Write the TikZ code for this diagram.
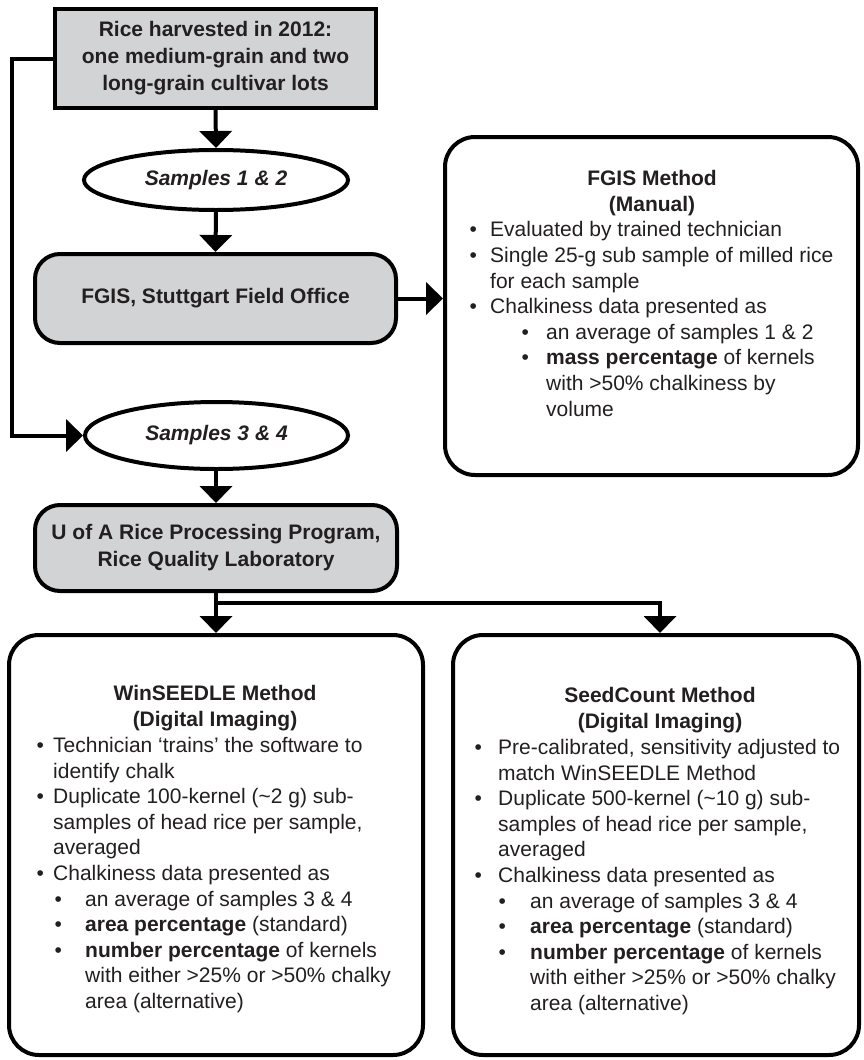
\documentclass[tikz,border=0pt]{standalone}
\usepackage{fontspec}
\setmainfont{Liberation Sans}
\usetikzlibrary{shapes.geometric,arrows.meta}
\definecolor{boxgray}{HTML}{D1D3D4}
\definecolor{ink}{HTML}{231F20}
\newcommand\bl[3]{\hspace*{#1pt}\makebox[0pt]{\textbullet}\hspace*{#2pt}#3}
\newcommand\ct[2]{\hspace*{#1pt}#2}
\begin{document}
\begin{tikzpicture}[x=1pt,y=-1pt,
  every node/.style={text=ink, font=\fontsize{21}{25.6}\selectfont, inner sep=0pt},
  frame/.style={draw=black, line width=4pt},
  graybox/.style={frame, fill=boxgray, align=center, font=\bfseries\fontsize{21}{27}\selectfont},
  roundbox/.style={frame, rounded corners=30pt},
  oval/.style={frame, ellipse, fill=white, font=\bfseries\itshape\fontsize{21}{25}\selectfont},
  head/.style={anchor=north, align=center, font=\bfseries\fontsize{21}{26}\selectfont},
  body/.style={anchor=north west, align=left},
  conn/.style={line width=4pt, -{Triangle[width=32pt,length=17pt]}}]
\useasboundingbox[fill=white] (0,0) rectangle (863,1060);

% main flow nodes
\node[graybox, minimum width=321pt, minimum height=99pt] (top) at (215.5,58.5)
  {Rice harvested in 2012:\\one medium-grain and two\\long-grain cultivar lots};
\node[oval, minimum width=264pt, minimum height=60pt] (s12) at (216,180) {Samples 1 \& 2};
\node[graybox, rounded corners=25pt, minimum width=361pt, minimum height=89pt] (fgis) at (215.5,298.5)
  {FGIS, Stuttgart Field Office};
\node[roundbox, minimum width=413pt, minimum height=338pt] (fgism) at (651.5,306) {};
\node[oval, minimum width=263pt, minimum height=67pt] (s34) at (216.5,435.5) {Samples 3 \& 4};
\node[graybox, rounded corners=25pt, minimum width=362pt, minimum height=86pt] (uofa) at (216,548)
  {U of A Rice Processing Program,\\Rice Quality Laboratory};
\node[roundbox, minimum width=414pt, minimum height=420pt] (lbox) at (216,845) {};
\node[roundbox, minimum width=406pt, minimum height=420pt] (rbox) at (656,845) {};

% connectors
\coordinate (lx) at (12,435.5);
\coordinate (br) at (216,603);
\draw[conn] (top.south) -- (s12.north);
\draw[conn] (s12.south) -- (fgis.north);
\draw[conn] (fgis.east) -- (fgis.east -| fgism.west);
\draw[conn, -{Triangle[width=32pt,length=17pt]}] (top.west) -| (lx) -- (s34.west);
\draw[conn] (s34.south) -- (uofa.south |- s34.south) -- (uofa.north);
\draw[conn] (uofa.south) -- (uofa.south |- lbox.north);
\draw[conn] (br) -| ([xshift=4pt]rbox.north);

% FGIS method text
\node[head] (fgish) at (652,170) {FGIS Method\\(Manual)};
\node[body] (fgisb) at (460,221.5) {%
\bl{13}{17}{Evaluated by trained technician}\\
\bl{13}{17}{Single 25-g sub sample of milled rice}\\
\ct{30}{for each sample}\\
\bl{13}{17}{Chalkiness data presented as}\\
\bl{65}{21}{an average of samples 1 \& 2}\\
\bl{65}{21}{\textbf{mass percentage} of kernels}\\
\ct{86}{with >50\% chalkiness by}\\
\ct{86}{volume}};

% WinSEEDLE text
\node[head] (lh) at (215,685) {WinSEEDLE Method\\(Digital Imaging)};
\node[body] (lb) at (30,737) {%
\bl{10}{13}{Technician ‘trains’ the software to}\\
\ct{23}{identify chalk}\\
\bl{10}{13}{Duplicate 100-kernel (\textasciitilde2 g) sub-}\\
\ct{23}{samples of head rice per sample,}\\
\ct{23}{averaged}\\
\bl{10}{13}{Chalkiness data presented as}\\
\bl{28}{27}{an average of samples 3 \& 4}\\
\bl{28}{27}{\textbf{area percentage} (standard)}\\
\bl{28}{27}{\textbf{number percentage} of kernels}\\
\ct{55}{with either >25\% or >50\% chalky}\\
\ct{55}{area (alternative)}};

% SeedCount text
\node[head] (rh) at (660,687) {SeedCount Method\\(Digital Imaging)};
\node[body] (rb) at (470,739) {%
\bl{8}{20}{Pre-calibrated, sensitivity adjusted to}\\
\ct{28}{match WinSEEDLE Method}\\
\bl{8}{20}{Duplicate 500-kernel (\textasciitilde10 g) sub-}\\
\ct{28}{samples of head rice per sample,}\\
\ct{28}{averaged}\\
\bl{8}{20}{Chalkiness data presented as}\\
\bl{32}{28}{an average of samples 3 \& 4}\\
\bl{32}{28}{\textbf{area percentage} (standard)}\\
\bl{32}{28}{\textbf{number percentage} of kernels}\\
\ct{60}{with either >25\% or >50\% chalky}\\
\ct{60}{area (alternative)}};
\end{tikzpicture}
\end{document}
